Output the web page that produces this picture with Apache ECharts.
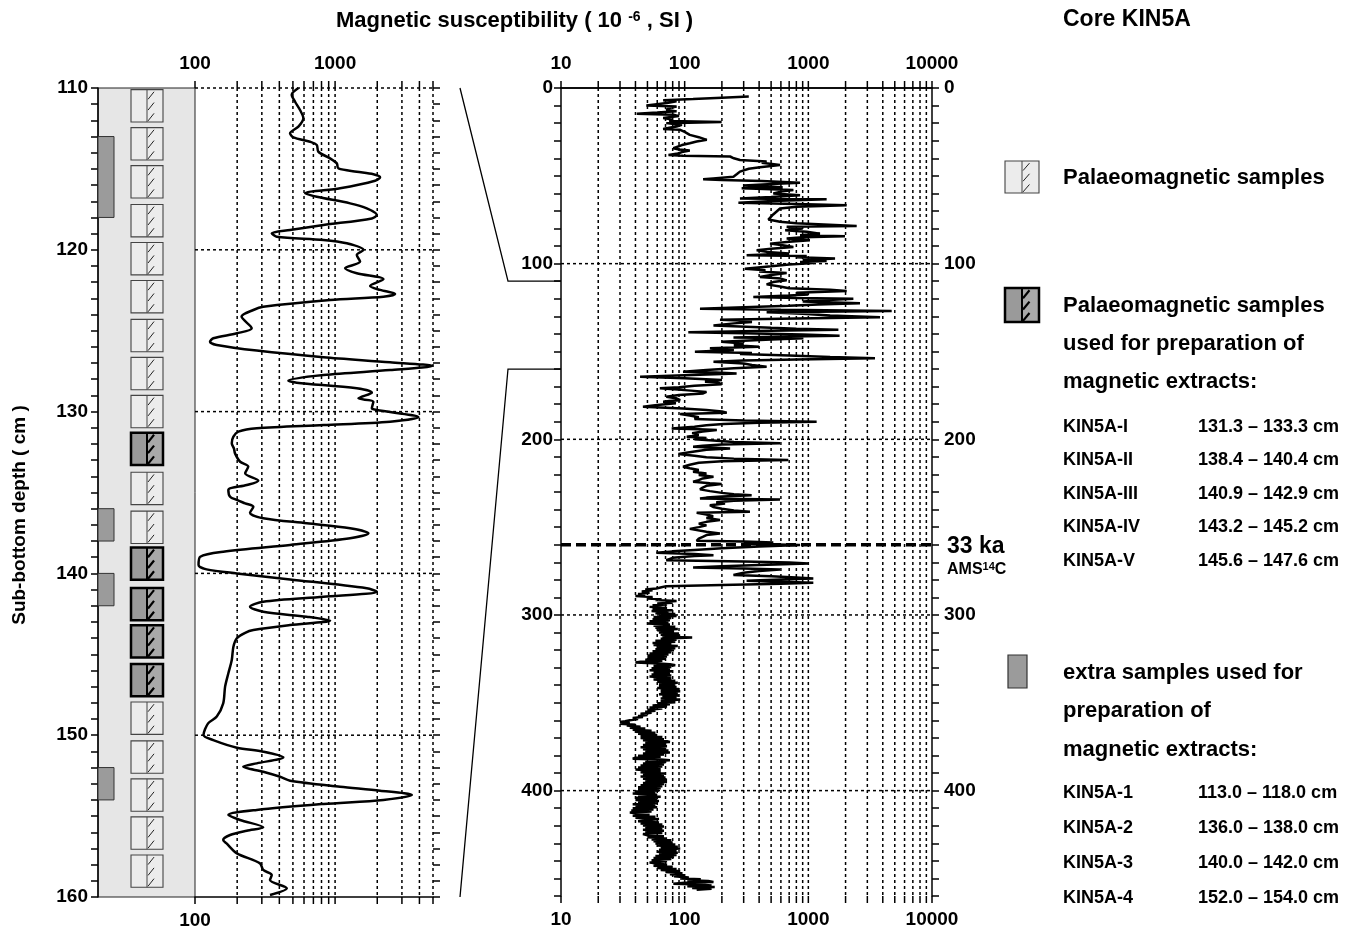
<!DOCTYPE html>
<html>
<head>
<meta charset="utf-8">
<script src="https://cdn.jsdelivr.net/npm/echarts@6/dist/echarts.min.js"></script>
<style>html,body{margin:0;padding:0;background:#fff}#c{width:1367px;height:931px}</style>
</head>
<body>
<div id="c"></div>
<script>
// ---------------- DATA ----------------
// Left (zoomed) profile: [depth cm, susceptibility 10^-6 SI]
const leftCurve = [
[110.0,547],[110.43,490],[110.85,518],[111.36,562],[111.87,594],[112.39,547],[112.8,477],[113.05,504],
[113.32,663],[113.52,740],[113.94,760],[114.35,921],[114.66,1029],[114.97,1056],[115.17,1429],[115.33,1877],
[115.52,2096],[115.73,1930],[116.2,1086],[116.51,611],[116.72,740],[117.13,1280],[117.44,1684],[117.85,1986],
[118.06,1830],[118.47,826],[118.78,477],[118.98,353],[119.19,383],[119.39,826],[119.6,1211],[120.01,1594],
[120.32,1429],[120.73,1509],[121.14,1179],[121.45,1429],[121.82,2213],[122.24,1778],[122.48,2096],[122.73,2683],
[122.9,2213],[123.1,921],[123.52,307],[123.72,261],[124.13,215],[124.85,254],[125.16,199],[125.47,135],
[125.68,128],[125.88,143],[126.23,276],[126.64,826],[126.95,2470],[127.18,4950],[127.43,2470],[127.74,826],
[128.09,464],[128.21,532],[128.56,1429],[128.83,1830],[129.18,1468],[129.39,1877],[129.8,1830],[129.9,1986],
[130.35,3936],[130.62,2470],[130.83,826],[131.03,276],[131.24,204],[131.55,188],[131.96,183],[132.3,190],[132.58,193],
[133.1,210],[133.4,240],[133.81,228],[134.27,283],[134.54,234],[134.84,173],[135.26,178],[135.46,199],
[135.67,228],[135.88,261],[136.25,247],[136.59,307],[136.9,628],[137.21,1280],[137.52,1730],[137.83,1280],
[138.24,477],[138.66,159],[138.97,109],[139.48,106],[139.75,121],[140.0,199],[140.37,477],[140.92,1684],
[141.13,1986],[141.44,826],[141.75,307],[142.06,247],[142.37,307],[142.68,628],[142.92,921],[143.19,477],
[143.5,261],[143.67,228],[144.01,199],[144.53,188],[145.35,183],[146.17,173],[147.0,164],[148.03,159],
[148.85,143],[149.27,124],[149.99,115],[150.3,135],[150.77,199],[151.02,307],[151.37,427],[151.74,276],
[151.95,221],[152.26,307],[152.57,405],[152.81,477],[153.18,1086],[153.43,2096],[153.7,3532],[154.0,2213],
[154.25,826],[154.62,276],[154.93,173],[155.24,210],[155.69,307],[155.9,234],[156.17,178],[156.48,159],
[156.69,168],[157.3,199],[157.92,291],[158.33,307],[158.64,353],[158.95,343],[159.46,452],[159.88,343]
];
// Right (whole core) profile: [depth cm, susceptibility 10^-6 SI]
const rightCurve = [
[4.8,330],[5.5,200],[6.3,117],[7.0,67],[7.6,86],[8.5,72],[9.9,49],[10.5,86],[11.4,75],[12.4,71],[13.3,86],[14.0,60],
[14.7,41],[15.2,81],[16.0,90],[17.1,67],[18.0,80],[18.8,75],[19.4,199],[20.0,71],[21.0,95],[21.9,86],[22.6,75],
[23.4,67],[23.8,92],[25.0,100],[26.7,110],[28.0,130],[29.5,151],[30.5,125],[31.5,110],[32.5,95],[34.3,81],[35.0,90],
[35.6,110],[36.5,95],[37.3,88],[38.1,74],[38.6,97],[39.0,233],[40.0,250],[41.0,280],[41.9,460],[42.5,420],[43.8,590],
[44.5,480],[45.1,406],[46.0,330],[47.6,280],[49.0,265],[50.5,248],[51.5,170],[52.0,141],[52.4,199],[53.0,420],
[53.9,857],[54.5,560],[55.5,300],[56.5,620],[57.1,289],[58.1,757],[59.0,600],[60.0,521],[61.0,857],[62.0,500],
[62.9,280],[63.4,1406],[64.3,520],[65.3,272],[66.0,800],[66.7,2042],[67.6,805],[68.6,590],[70.0,560],[72.0,520],
[74.9,475],[76.2,590],[77.0,800],[78.5,2460],[79.0,668],[80.0,900],[81.0,650],[81.9,970],[82.9,1242],[83.8,857],
[84.4,1977],[85.0,900],[85.7,668],[86.7,1030],[87.5,700],[88.6,490],[89.5,620],[90.5,757],[91.5,500],[92.4,382],
[93.3,460],[94.2,700],[95.2,317],[95.6,970],[96.3,800],[97.1,1644],[98.0,900],[98.5,1406],[99.0,857],[99.6,1100],
[100.5,700],[101.5,500],[102.9,307],[103.8,450],[104.5,400],[105.3,668],[106.5,500],[107.6,406],[108.5,600],
[109.5,668],[110.5,520],[111.8,460],[113.0,590],[114.0,700],[114.8,1500],[115.6,2042],[116.5,800],[117.5,1000],
[118.2,700],[119.0,359],[119.5,800],[120.0,2312],[120.6,1592],[121.5,900],[122.5,2616],[123.2,1200],[124.0,700],
[124.8,300],[125.7,133],[126.3,600],[127.0,4721],[127.6,460],[128.5,900],[129.5,1500],[130.5,3802],[131.2,800],
[132.0,193],[132.4,280],[133.2,350],[134.0,250],[135.2,171],[135.8,280],[136.5,500],[137.0,800],[137.7,1750],
[138.2,500],[139.0,107],[139.6,300],[140.3,900],[141.0,1790],[141.5,700],[142.0,248],[142.5,912],[143.2,500],
[144.4,199],[145.5,300],[146.5,250],[147.3,400],[148.2,160],[149.2,250],[150.1,121],[150.8,350],[151.5,280],
[152.3,700],[153.2,1500],[153.9,3459],[154.5,800],[155.2,300],[155.8,171],[156.8,300],[157.7,350],[158.7,460],
[159.5,250],[160.5,150],[161.5,97],[162.0,180],[162.5,263],[163.5,100],[164.4,43.6],[165.3,100],[166.2,200],
[167.2,146],[168.0,190],[168.6,199],[169.5,120],[170.3,90],[171.0,63],[172.0,100],[173.0,150],[173.9,141],
[174.8,90],[175.8,71],[176.6,85],[177.7,92],[178.2,75],[178.6,67],[179.5,85],[180.5,60],[181.5,46],[182.0,70],
[182.4,97],[183.3,150],[184.2,200],[184.9,219],[185.6,92],[186.5,110],[187.5,130],[188.5,120],[189.3,300],
[190.0,1167],[190.6,400],[191.3,206],[192.0,150],[192.8,120],[193.8,78.6],[194.3,130],[194.7,182],[195.5,140],
[196.5,115],[197.5,130],[198.5,104],[199.3,150],[200.0,120],[200.8,182],[201.5,250],[202.3,590],[203.0,200],
[203.6,140],[204.2,117],[204.8,180],[205.2,233],[206.0,150],[207.0,120],[207.8,100],[208.4,89],[209.3,120],
[210.2,150],[211.0,250],[211.8,689],[212.5,200],[213.3,130],[214.5,110],[215.6,97],[216.5,110],[217.5,130],
[218.5,117],[219.5,150],[220.3,130],[221.3,171],[222.3,140],[223.3,130],[224.2,117],[225.0,160],[225.5,199],
[226.5,150],[227.5,140],[228.5,133],[229.5,160],[230.5,200],[231.3,250],[231.8,348],[232.6,200],[233.2,150],
[233.7,133],[234.2,590],[235.0,250],[235.8,180],[236.5,212],[237.5,160],[238.5,170],[239.5,200],[240.5,250],
[241.3,337],[241.8,125],[242.8,150],[243.8,170],[244.8,150],[246.0,193],[247.0,150],[248.0,130],[249.0,150],
[250.0,130],[251.0,110],[251.7,110],[252.6,150],[253.6,193],[254.5,150],[255.5,140],[256.5,130],[257.8,125],
[258.2,300],[258.7,521],[259.5,300],[260.2,857],[261.0,400],[262.0,200],[263.0,120],[263.8,80],[264.6,59],
[265.3,120],[266.0,171],[266.5,120],[267.5,80],[268.8,71],[269.5,300],[270.2,700],[270.7,1000],[271.5,400],
[272.3,200],[273.0,117],[273.6,300],[274.1,590],[275.0,400],[276.0,300],[277.3,248],[278.0,500],[278.7,800],
[279.2,1097],[279.8,600],[280.5,317],[281.2,700],[281.7,1097],[282.3,600],[283.0,200],[283.6,71],[284.2,65],
[284.9,59],[285.5,48],[286.0,55],[286.7,45],[287.3,52],[288.0,42],[288.7,48],[289.2,40],[289.8,55],[290.6,50],
[291.0,65],[291.5,58],[292.0,86],[292.5,70],[293.0,80],[293.5,60],[294.0,72],[294.5,55],[295.0,65],
[295.4,52],[296.0,72],[296.6,55],[297.3,80],[297.8,54],[298.4,74],[299.0,58],[299.5,84],[300.1,62],[300.6,86],
[301.2,56],[301.8,78],[302.4,55],[303.0,76],[303.6,52],[304.2,74],[304.9,50],[305.5,76],[306.1,56],[306.7,84],
[307.3,58],[308.0,88],[308.7,60],[309.3,82],[310.0,62],[310.6,90],[311.2,64],[311.8,92],[312.4,66],[312.9,115],
[313.5,64],[314.1,86],[314.7,58],[315.3,84],[315.9,55],[316.5,78],[317.1,56],[317.7,88],[318.3,60],[318.9,84],
[319.5,58],[320.1,82],[320.7,55],[321.3,78],[321.9,52],[322.5,74],[323.1,50],[323.7,72],[324.3,50],[324.9,70],
[325.5,48],[326.1,66],[326.6,44],[327.1,40],[327.6,62],[328.1,76],[328.6,84],[329.1,56],[329.7,78],[330.3,54],
[330.9,76],[331.5,52],[332.1,80],[332.7,56],[333.3,76],[333.9,54],[334.5,78],[335.0,52],[335.6,70],[336.2,78],
[336.8,56],[337.4,84],[338.0,60],[338.6,88],[339.2,62],[339.8,84],[340.4,62],[341.0,86],[341.6,60],[342.2,90],
[342.8,64],[343.4,92],[344.0,64],[344.6,88],[345.2,62],[345.8,90],[346.4,66],[347.0,86],[347.6,64],[348.2,92],
[348.6,95],[349.1,64],[349.7,84],[350.3,60],[350.9,76],[351.5,55],[352.1,72],[352.7,52],[353.3,66],[353.9,50],
[354.5,58],[355.1,48],[355.7,54],[356.3,44],[356.9,50],[357.5,42],[358.1,46],[358.7,38],[359.3,42],[359.9,36],
[360.5,33],[361.0,30],[361.5,36],[362.0,30],[362.5,40],[363.0,34],[363.6,44],[364.2,36],
[364.7,48],[365.3,38],[365.9,54],[366.5,40],[367.1,58],[367.7,42],[368.3,60],[368.9,44],[369.5,66],[370.1,44],
[370.7,68],[371.3,46],[371.9,72],[372.3,76],[372.9,48],[373.5,70],[374.1,46],[374.7,72],[375.3,44],[375.9,70],
[376.5,46],[377.1,74],[377.7,48],[378.3,76],[378.9,46],[379.5,68],[380.1,42],[380.7,64],[381.3,40],[381.8,38],
[382.3,64],[382.7,76],[383.3,48],[383.9,70],[384.5,46],[385.1,68],[385.7,44],[386.3,66],[386.9,42],[387.5,64],
[388.0,40],[388.4,40],[389.0,64],[389.6,44],[390.2,70],[390.8,46],[391.4,68],[392.0,44],[392.6,70],[393.2,46],
[393.8,72],[394.4,48],[395.1,72],[395.7,46],[396.3,68],[396.9,44],[397.5,66],[398.1,42],[398.7,64],[399.3,42],
[399.9,62],[400.5,40],[401.1,58],[401.7,38],[402.3,60],[402.9,42],[403.5,64],[404.1,40],[404.7,60],[405.3,40],
[405.9,62],[406.5,42],[407.1,60],[407.7,38],[408.3,58],[408.9,40],[409.5,60],[410.1,38],[410.7,56],[411.3,37],
[411.9,54],[412.5,36],[413.1,35],[413.7,52],[414.3,38],[414.9,58],[415.5,40],[416.1,62],[416.9,64],[417.5,42],
[418.1,62],[418.7,44],[419.3,66],[419.9,46],[420.5,68],[421.1,48],[421.7,66],[422.3,46],[422.9,68],[423.5,48],
[424.1,66],[424.7,46],[425.4,50],[426.0,68],[426.6,50],[427.2,72],[427.8,54],[428.3,78],[428.9,56],[429.5,80],
[430.1,58],[430.7,84],[431.3,60],[431.9,88],[432.5,64],[433.0,92],[433.6,62],[434.2,86],[434.8,60],[435.4,88],
[436.0,62],[436.6,86],[437.2,58],[437.8,82],[438.4,56],[439.0,78],[439.6,54],[440.2,72],[440.9,52],[441.6,52],
[442.2,72],[442.8,56],[443.4,80],[444.0,60],[444.6,86],[445.2,64],[445.8,92],[446.4,70],[447.0,96],[447.6,76],
[448.2,100],[448.8,82],[449.4,108],[450.0,92],[450.5,135],[451.0,105],[451.5,155],[452.0,171],[452.5,100],
[453.0,81],[453.5,130],[454.0,165],[454.5,105],[454.9,175],[455.4,115],[455.9,165],[456.4,125],[456.8,125]
];
// Sample column (depth of top of each 2 cm sample)
const sampleTops = [110.1,112.45,114.8,117.2,119.55,121.9,124.3,126.65,129.0,133.75,136.15,147.95,150.35,152.7,155.05,157.4];
const extractTops = [131.3,138.4,140.9,143.2,145.6];
const sampleLength = 2;
const extraRanges = [[113,118],[136,138],[140,142],[152,154]];
// Axes
const leftDepthRange = [110,160];
const rightDepthRange = [0,460];
const leftSuscRange = [100,5000];
const rightSuscRange = [10,10000];
const leftXTicks = [100,200,300,400,500,600,700,800,900,1000,2000,3000,4000,5000];
const rightXTicks = [10,20,30,40,50,60,70,80,90,100,200,300,400,500,600,700,800,900,1000,2000,3000,4000,5000,6000,7000,8000,9000,10000];
const leftGridDepths = [110,120,130,140,150];
const rightGridDepths = [100,200,300,400];
const datumDepth = 260;
const datumLabel = '33 ka';
// Legend lists
const extractNames = ['KIN5A-I','KIN5A-II','KIN5A-III','KIN5A-IV','KIN5A-V'];
const extractIntervals = ['131.3 – 133.3 cm','138.4 – 140.4 cm','140.9 – 142.9 cm','143.2 – 145.2 cm','145.6 – 147.6 cm'];
const extraNames = ['KIN5A-1','KIN5A-2','KIN5A-3','KIN5A-4'];
const extraIntervals = ['113.0 – 118.0 cm','136.0 – 138.0 cm','140.0 – 142.0 cm','152.0 – 154.0 cm'];

// ---------------- DRAWING ----------------
const FONT = '"Liberation Sans", Arial, Helvetica, sans-serif';
const lab = {color:'#000', fontSize:19, fontWeight:'bold', fontFamily:FONT};
const powLabel = v => { const l = Math.log10(v); return Math.abs(l - Math.round(l)) < 1e-6 ? String(Math.round(v)) : ''; };

function boxElems(x, y, w, h, dark) {
  const mid = x + w / 2;
  const els = [];
  if (dark) {
    els.push({type:'rect', shape:{x:x, y:y, width:w/2, height:h}, style:{fill:'#9a9a9a'}});
    els.push({type:'rect', shape:{x:mid, y:y, width:w/2, height:h}, style:{fill:'#a9a9a9'}});
  } else {
    els.push({type:'rect', shape:{x:x, y:y, width:w, height:h}, style:{fill:'#ececec'}});
  }
  for (let k = 0; k < 3; k++) {
    els.push({type:'line', shape:{x1:mid + 1, y1:y + h * (k + 0.9) / 3, x2:mid + w * 0.22, y2:y + h * (k + 0.2) / 3},
      style:{stroke: dark ? '#000' : '#222', lineWidth: dark ? 2.2 : 1}});
  }
  els.push({type:'line', shape:{x1:mid, y1:y, x2:mid, y2:y + h}, style:{stroke: dark ? '#000' : '#444', lineWidth: dark ? 2 : 1}});
  els.push({type:'rect', shape:{x:x, y:y, width:w, height:h}, style:{fill:null, stroke: dark ? '#000' : '#444', lineWidth: dark ? 2.5 : 1.1}});
  return els;
}

function vGrid(yr, dashedTest) {
  return function (params, api) {
    const v = api.value(0);
    const a = api.coord([v, yr[0]]), b = api.coord([v, yr[1]]);
    const ch = [
      {type:'line', shape:{x1:a[0], y1:a[1], x2:a[0], y2:a[1] - 7}, style:{stroke:'#000', lineWidth:1.5}},
      {type:'line', shape:{x1:b[0], y1:b[1], x2:b[0], y2:b[1] + 7}, style:{stroke:'#000', lineWidth:1.5}}
    ];
    if (dashedTest(v)) ch.push({type:'line', shape:{x1:a[0], y1:a[1], x2:b[0], y2:b[1]}, style:{stroke:'#000', lineWidth:1.5, lineDash:[3,3]}});
    return {type:'group', children:ch};
  };
}
function hGrid(xr) {
  return function (params, api) {
    const d = api.value(0);
    const a = api.coord([xr[0], d]), b = api.coord([xr[1], d]);
    return {type:'line', shape:{x1:a[0], y1:a[1], x2:b[0], y2:b[1]}, style:{stroke:'#000', lineWidth:1.5, lineDash:[3,3]}};
  };
}

const sampleData = sampleTops.map(t => [t, t + sampleLength, 0])
  .concat(extractTops.map(t => [t, t + sampleLength, 1]))
  .concat(extraRanges.map(r => [r[0], r[1], 2]));

const yBase = {type:'value', inverse:true, splitLine:{show:false},
  axisLine:{show:true, lineStyle:{color:'#000', width:1.5}},
  axisTick:{show:true, length:7, lineStyle:{color:'#000', width:1.5}}};

const option = {
  animation:false,
  backgroundColor:'#fff',
  textStyle:{fontFamily:FONT},
  grid:[
    {left:98, top:88, width:97, height:809, show:true, backgroundColor:'#e6e6e6', borderColor:'#222', borderWidth:1},
    {left:195, top:88, width:238, height:809},
    {left:561, top:88, width:371, height:808}
  ],
  xAxis:[
    {gridIndex:0, type:'value', min:0, max:1, show:false},
    {gridIndex:1, type:'log', logBase:10, min:leftSuscRange[0], max:leftSuscRange[1], position:'top',
      axisLine:{show:false}, axisTick:{show:false}, splitLine:{show:false}, minorTick:{show:false},
      axisLabel:Object.assign({formatter:powLabel, margin:15}, lab)},
    {gridIndex:1, type:'log', logBase:10, min:leftSuscRange[0], max:leftSuscRange[1], position:'bottom',
      axisLine:{show:true, lineStyle:{color:'#000', width:1.5}}, axisTick:{show:false}, splitLine:{show:false},
      axisLabel:Object.assign({formatter:v => (Math.abs(v - leftSuscRange[0]) < 1e-6 ? String(leftSuscRange[0]) : ''), margin:14}, lab)},
    {gridIndex:2, type:'log', logBase:10, min:rightSuscRange[0], max:rightSuscRange[1], position:'top',
      axisLine:{show:true, lineStyle:{color:'#000', width:1.5}}, axisTick:{show:false}, splitLine:{show:false},
      axisLabel:Object.assign({formatter:powLabel, margin:15}, lab)},
    {gridIndex:2, type:'log', logBase:10, min:rightSuscRange[0], max:rightSuscRange[1], position:'bottom',
      axisLine:{show:true, lineStyle:{color:'#000', width:1.5}}, axisTick:{show:false}, splitLine:{show:false},
      axisLabel:Object.assign({formatter:powLabel, margin:14}, lab)}
  ],
  yAxis:[
    Object.assign({}, yBase, {gridIndex:0, min:leftDepthRange[0], max:leftDepthRange[1], interval:1, position:'left',
      axisLabel:Object.assign({formatter:v => (v % 10 === 0 ? String(v) : ''), margin:10}, lab)}),
    Object.assign({}, yBase, {gridIndex:1, min:leftDepthRange[0], max:leftDepthRange[1], interval:1, position:'right',
      axisLine:{show:false}, axisLabel:{show:false}}),
    Object.assign({}, yBase, {gridIndex:2, min:rightDepthRange[0], max:rightDepthRange[1], interval:10, position:'left',
      axisLabel:Object.assign({formatter:v => (v % 100 === 0 ? String(v) : ''), margin:8}, lab)}),
    Object.assign({}, yBase, {gridIndex:2, min:rightDepthRange[0], max:rightDepthRange[1], interval:10, position:'right',
      axisLabel:Object.assign({formatter:v => (v % 100 === 0 ? String(v) : ''), margin:12}, lab)})
  ],
  series:[
    {type:'custom', xAxisIndex:0, yAxisIndex:0, data:sampleData, encode:{y:[0,1]}, silent:true, z:3,
      renderItem:function (params, api) {
        const t = api.value(0), b = api.value(1), kind = api.value(2);
        const p1 = api.coord([0, t]), p2 = api.coord([0, b]);
        if (kind === 2) return {type:'rect', shape:{x:p1[0], y:p1[1], width:16, height:p2[1] - p1[1]}, style:{fill:'#9b9b9b', stroke:'#333', lineWidth:1}};
        return {type:'group', children:boxElems(p1[0] + 33, p1[1], 32, p2[1] - p1[1], kind === 1)};
      }},
    {type:'custom', xAxisIndex:1, yAxisIndex:1, data:leftXTicks.map(v => [v]), encode:{x:0}, silent:true, z:2, clip:false,
      renderItem:vGrid(leftDepthRange, v => v > leftSuscRange[0] * 1.001)},
    {type:'custom', xAxisIndex:1, yAxisIndex:1, data:leftGridDepths.map(d => [d]), encode:{y:0}, silent:true, z:2,
      renderItem:hGrid(leftSuscRange)},
    {type:'line', xAxisIndex:1, yAxisIndex:1, data:leftCurve.map(p => [p[1], p[0]]), showSymbol:false, smooth:0.3,
      lineStyle:{color:'#000', width:2.5}, z:6, silent:true},
    {type:'custom', xAxisIndex:3, yAxisIndex:2, data:rightXTicks.map(v => [v]), encode:{x:0}, silent:true, z:2, clip:false,
      renderItem:vGrid(rightDepthRange, v => v > rightSuscRange[0] * 1.001 && v < rightSuscRange[1] * 0.999)},
    {type:'custom', xAxisIndex:3, yAxisIndex:2, data:rightGridDepths.map(d => [d]), encode:{y:0}, silent:true, z:2,
      renderItem:hGrid(rightSuscRange)},
    {type:'line', xAxisIndex:3, yAxisIndex:2, data:rightCurve.map(p => [p[1], p[0]]), showSymbol:false,
      lineStyle:{color:'#000', width:2.5}, z:6, silent:true},
    {type:'custom', xAxisIndex:3, yAxisIndex:2, data:[[datumDepth]], encode:{y:0}, silent:true, z:7, clip:false,
      renderItem:function (params, api) {
        const d = api.value(0);
        const a = api.coord([rightSuscRange[0], d]), b = api.coord([rightSuscRange[1], d]);
        const t0 = api.coord([rightSuscRange[0], rightDepthRange[0]]);
        const t1 = api.coord([rightSuscRange[0], rightDepthRange[1]]);
        const c1 = api.coord([rightSuscRange[0], leftDepthRange[0]]);
        const c2 = api.coord([rightSuscRange[0], leftDepthRange[1]]);
        return {type:'group', children:[
          {type:'line', shape:{x1:a[0], y1:a[1], x2:b[0], y2:b[1]}, style:{stroke:'#000', lineWidth:3.5, lineDash:[10,5]}},
          {type:'text', x:b[0] + 15, y:a[1] + 2, style:{text:datumLabel, fill:'#000', font:'bold 23px ' + FONT, align:'left', verticalAlign:'middle'}},
          {type:'text', x:b[0] + 15, y:a[1] + 25, style:{text:'{b|AMS}{s|14}{b|C}', fill:'#000', align:'left', verticalAlign:'middle',
            rich:{b:{font:'bold 16px ' + FONT, fill:'#000'}, s:{font:'bold 11px ' + FONT, fill:'#000', verticalAlign:'top', padding:[0,0,6,0]}}}},
          {type:'polyline', shape:{points:[[t0[0] - 101, t0[1]], [t0[0] - 53, c1[1]], c1]}, style:{stroke:'#000', lineWidth:1.3, fill:null}},
          {type:'polyline', shape:{points:[[t0[0] - 101, t1[1] + 1], [t0[0] - 53, c2[1]], c2]}, style:{stroke:'#000', lineWidth:1.3, fill:null}}
        ]};
      }}
  ]
};

// ---------------- Texts and legend ----------------
const G = [];
function txt(x, y, s, size, extra) {
  return Object.assign({type:'text', x:x, y:y, style:{text:s, fill:'#000', font:'bold ' + size + 'px ' + FONT, align:'left', verticalAlign:'middle'}}, extra || {});
}
G.push({type:'text', x:336, y:21, style:{text:'{a|Magnetic susceptibility ( 10 }{s|-6}{a| , SI )}', fill:'#000', align:'left', verticalAlign:'middle',
  rich:{a:{font:'bold 22px ' + FONT, fill:'#000'}, s:{font:'bold 14px ' + FONT, fill:'#000', verticalAlign:'top', padding:[0,0,8,0]}}}});
G.push(txt(1063, 20, 'Core KIN5A', 23));
G.push({type:'text', x:20, y:515, rotation:Math.PI / 2, style:{text:'Sub-bottom depth ( cm )', fill:'#000', font:'bold 19px ' + FONT, align:'center', verticalAlign:'middle'}});
G.push({type:'group', children:boxElems(1005, 161, 34, 32, false)});
G.push(txt(1063, 178, 'Palaeomagnetic samples', 22));
G.push({type:'group', children:boxElems(1005, 288, 34, 34, true)});
G.push(txt(1063, 306, 'Palaeomagnetic samples', 22));
G.push(txt(1063, 344, 'used for preparation of', 22));
G.push(txt(1063, 382, 'magnetic extracts:', 22));
extractNames.forEach((n, i) => { G.push(txt(1063, 427 + i * 33.4, n, 18)); G.push(txt(1198, 427 + i * 33.4, extractIntervals[i], 18)); });
G.push({type:'rect', shape:{x:1008, y:655, width:19, height:33}, style:{fill:'#9b9b9b', stroke:'#333', lineWidth:1.2}});
G.push(txt(1063, 673, 'extra samples used for', 22));
G.push(txt(1063, 711, 'preparation of', 22));
G.push(txt(1063, 750, 'magnetic extracts:', 22));
extraNames.forEach((n, i) => { G.push(txt(1063, 793 + i * 35, n, 18)); G.push(txt(1198, 793 + i * 35, extraIntervals[i], 18)); });
option.graphic = {elements:G};

const chart = echarts.init(document.getElementById('c'), null, {renderer:'canvas'});
chart.setOption(option);
</script>
</body>
</html>
